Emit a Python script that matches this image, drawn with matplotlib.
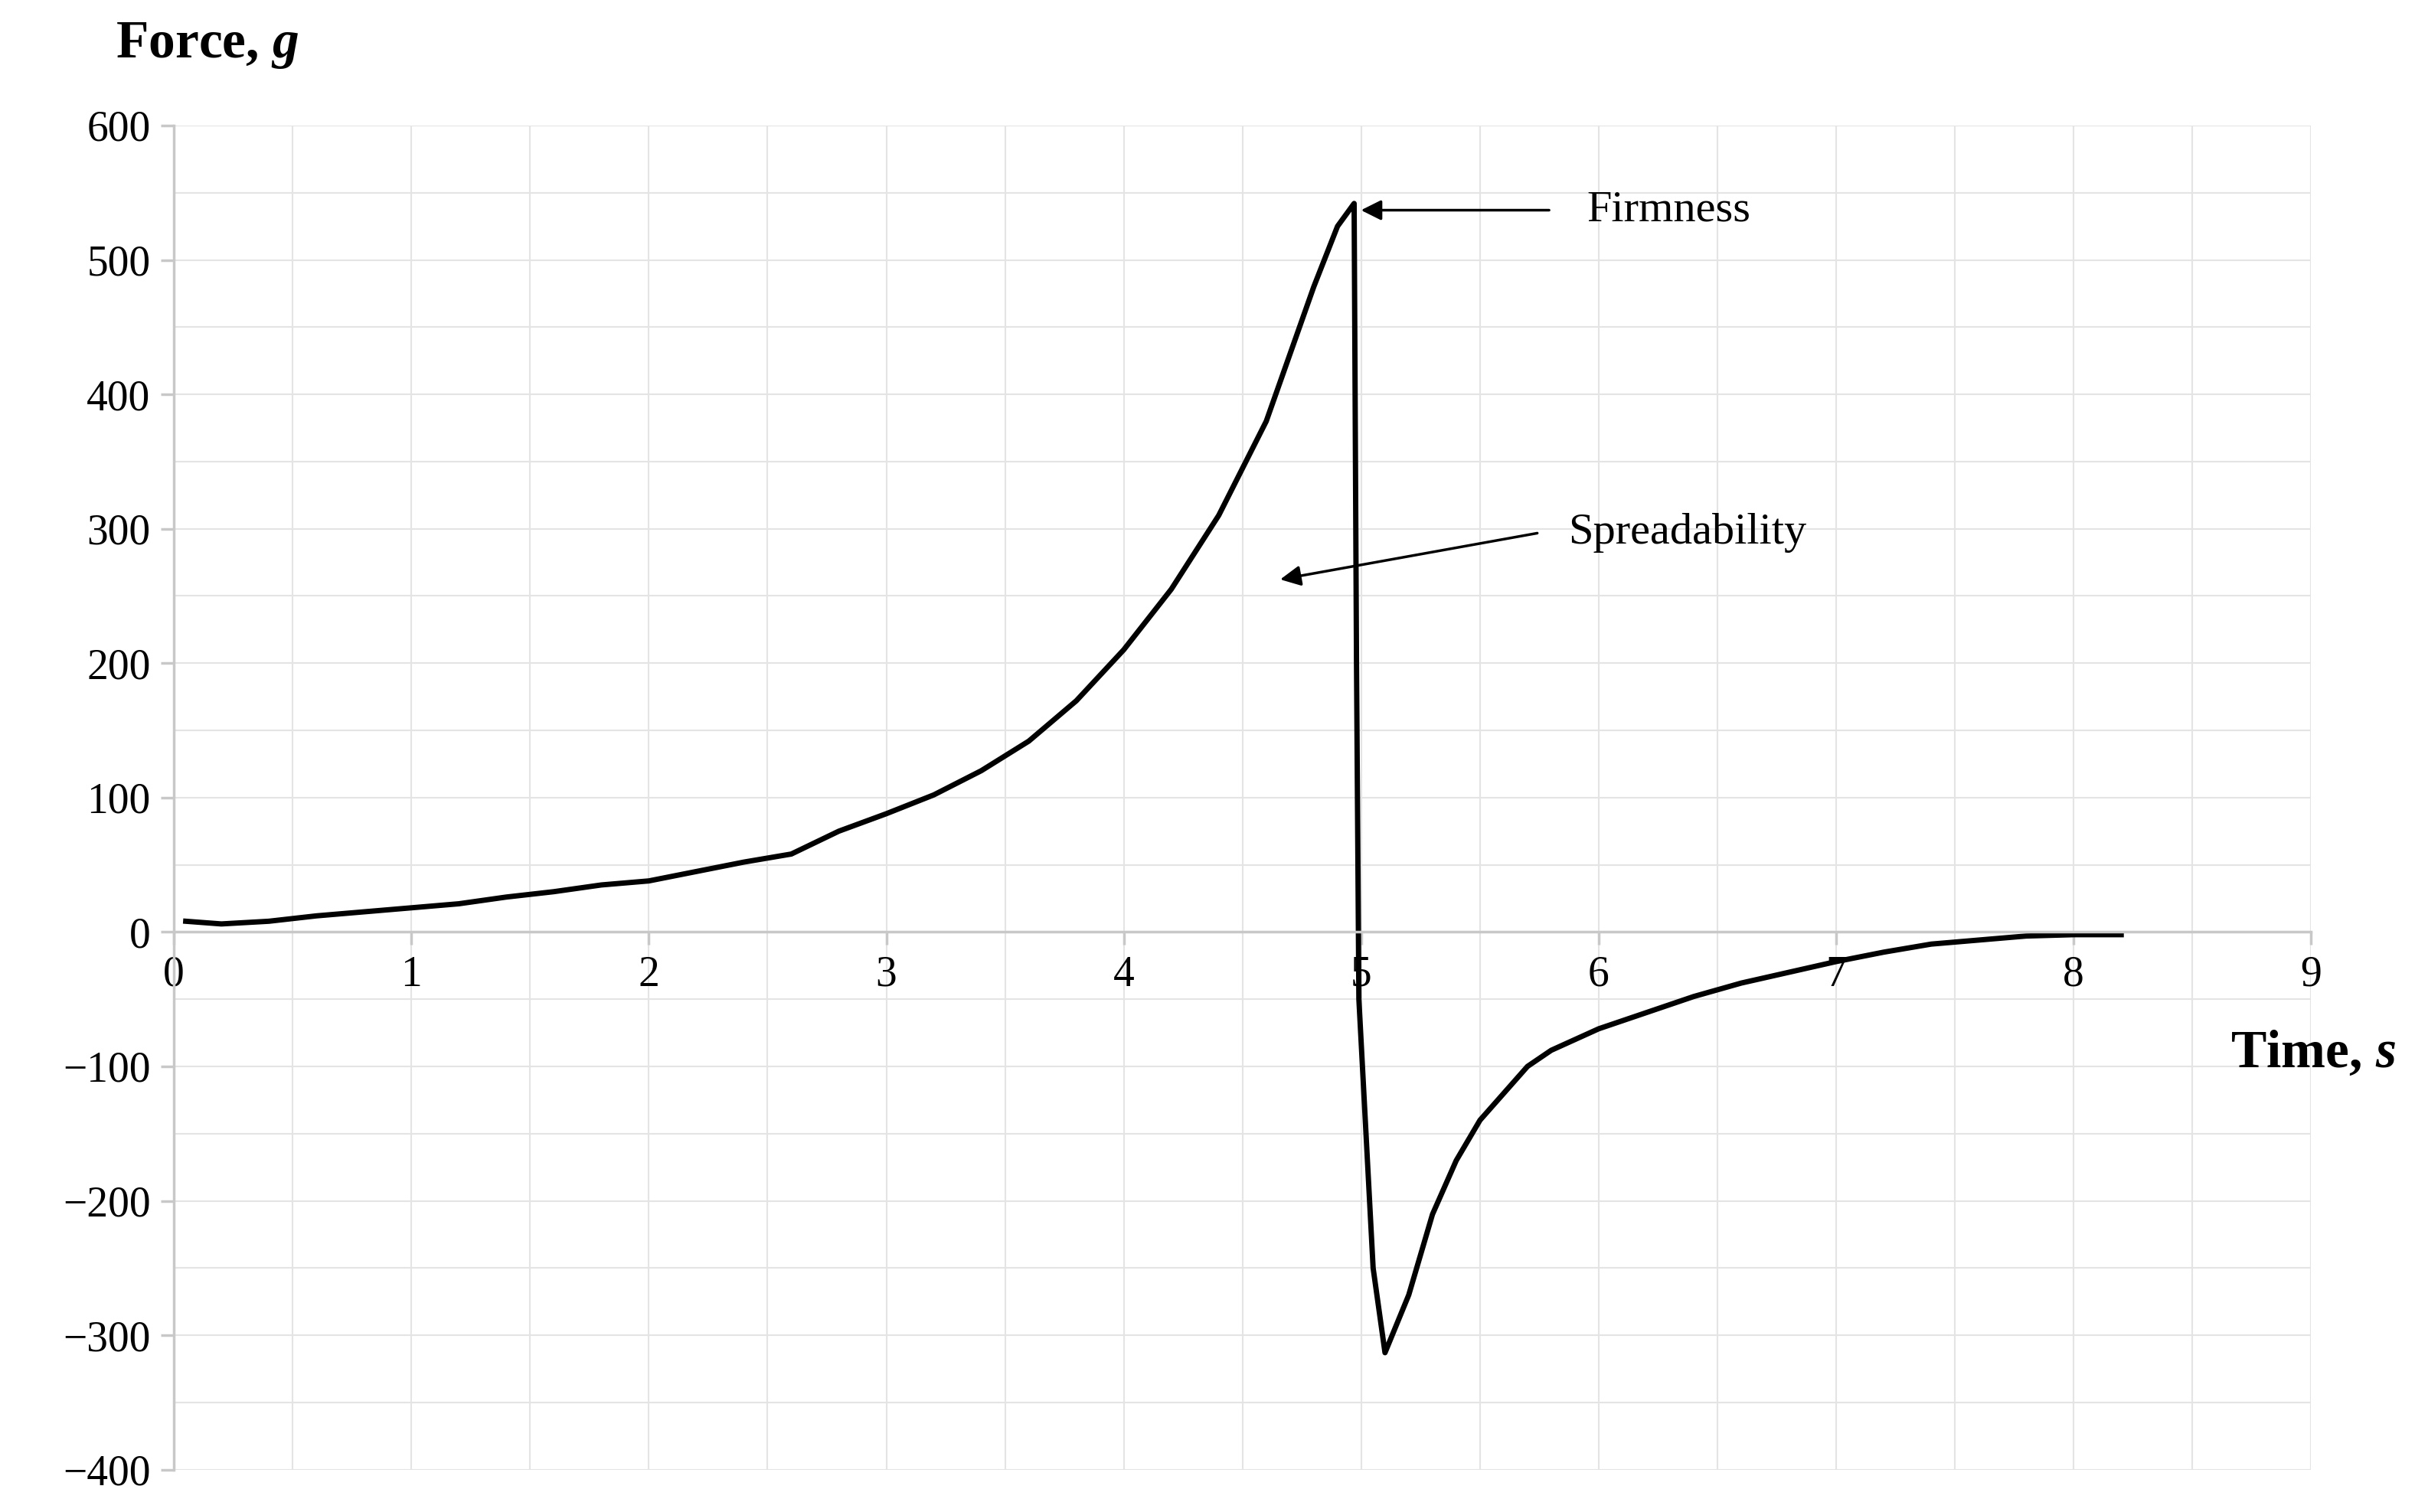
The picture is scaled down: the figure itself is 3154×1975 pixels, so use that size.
import numpy as np
import matplotlib
matplotlib.use("Agg")
from matplotlib import pyplot as plt
from matplotlib.ticker import MultipleLocator

plt.rcParams['font.family'] = ['Liberation Serif', 'DejaVu Serif']
plt.rcParams['mathtext.fontset'] = 'custom'
plt.rcParams['mathtext.rm'] = 'Liberation Serif'
plt.rcParams['mathtext.bfit'] = 'Liberation Serif:italic:bold'

# force curve
time_s = [0.05, 0.2, 0.4, 0.6, 0.8, 1.0, 1.2, 1.4, 1.6, 1.8, 2.0, 2.2, 2.4, 2.6,
          2.8, 3.0, 3.2, 3.4, 3.6, 3.8, 4.0, 4.2, 4.4, 4.6, 4.7, 4.8, 4.9, 4.97,
          4.98, 4.99, 5.05, 5.1, 5.2, 5.3, 5.4, 5.5, 5.6, 5.7, 5.8, 6.0, 6.2,
          6.4, 6.6, 6.8, 7.0, 7.2, 7.4, 7.6, 7.8, 8.0, 8.2]
force_g = [8, 6, 8, 12, 15, 18, 21, 26, 30, 35, 38, 45, 52, 58,
           75, 88, 102, 120, 142, 172, 210, 255, 310, 380, 430, 480, 525, 542,
           200, -50, -250, -313, -270, -210, -170, -140, -120, -100, -88, -72, -60,
           -48, -38, -30, -22, -15, -9, -6, -3, -2, -2]

fig = plt.figure(figsize=(31.54, 19.75), dpi=100)
ax = fig.add_axes([0.072, 0.028, 0.885, 0.889])
ax.set_xlim(0, 9)
ax.set_ylim(-400, 600)

ax.xaxis.set_major_locator(MultipleLocator(1))
ax.xaxis.set_minor_locator(MultipleLocator(0.5))
ax.yaxis.set_major_locator(MultipleLocator(100))
ax.yaxis.set_minor_locator(MultipleLocator(50))
ax.grid(which='both', color='#e4e4e4', lw=1.5)
ax.set_axisbelow(True)

for s in ['top', 'right']:
    ax.spines[s].set_visible(False)
ax.spines['bottom'].set_position(('data', 0))
ax.spines['bottom'].set_color('#c8c8c8')
ax.spines['left'].set_color('#c8c8c8')
ax.spines['bottom'].set_linewidth(2.5)
ax.spines['left'].set_linewidth(2.5)
ax.tick_params(which='major', length=12, width=2.5, color='#c8c8c8', labelsize=40, pad=10)
ax.tick_params(which='minor', length=0)
ax.set_yticks(range(-400, 601, 100))
ax.set_yticklabels([str(v).replace('-', '\u2212') for v in range(-400, 601, 100)])

ax.plot(time_s, force_g, color='black', lw=5, solid_joinstyle='round')

ax.annotate('', xy=(4.99, 537), xytext=(5.8, 537),
            arrowprops=dict(arrowstyle='-|>', color='black', lw=2.5, mutation_scale=40))
ax.text(5.95, 537, 'Firmness', fontsize=42, va='center')
ax.annotate('', xy=(4.65, 262), xytext=(5.75, 297),
            arrowprops=dict(arrowstyle='-|>', color='black', lw=2.5, mutation_scale=40))
ax.text(5.87, 297, 'Spreadability', fontsize=42, va='center')

fig.text(0.048, 0.97, r'Force, $\mathbfit{g}$', fontsize=50, fontweight='bold', va='center')
fig.text(0.992, 0.303, r'Time, $\mathbfit{s}$', fontsize=50, fontweight='bold', va='center', ha='right')

fig.savefig('out.png', dpi=100)
